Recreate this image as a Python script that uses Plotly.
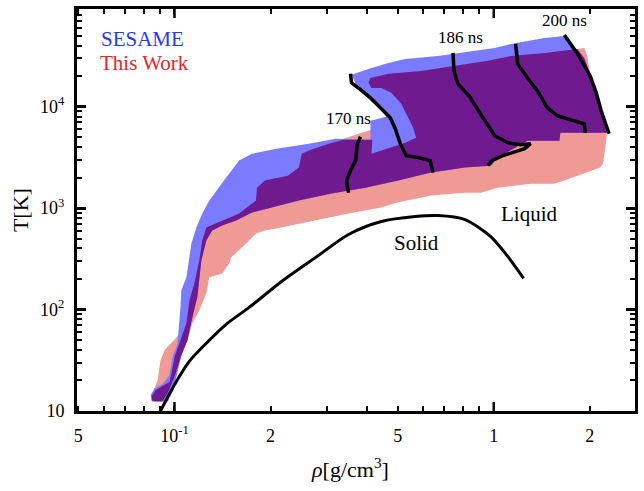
import math
import plotly.graph_objects as go

# ---------------- data ----------------
# This Work (full region)
work_rho = [0.0854, 0.0866, 0.0886, 0.0904, 0.0931, 0.0979, 0.1022, 0.1059, 0.1114, 0.1154,
            0.1196, 0.1222, 0.1258, 0.1410, 0.1594, 0.1800, 0.1813, 0.1920, 0.2265, 0.2451,
            0.2504, 0.2634, 0.3040, 0.3385, 0.3770, 0.4139, 0.4228, 0.4168, 0.4109, 0.4446,
            0.4776, 0.5280, 0.5715, 0.5594, 0.5396, 0.5131, 0.4776, 0.4446, 0.4139, 0.4050,
            0.4109, 0.4675, 0.5924, 0.7561, 0.9579, 1.130, 1.442, 1.827, 1.921, 1.963,
            2.005, 2.079, 2.154, 2.234, 2.265, 2.250, 2.218, 2.200, 2.154, 1.921,
            1.664, 1.549, 1.304, 1.029, 0.911, 0.8122, 0.6366, 0.5022, 0.4446, 0.3509,
            0.2770, 0.2154, 0.1920, 0.1800, 0.1676, 0.1560, 0.1506, 0.1483, 0.1410, 0.1285,
            0.1258, 0.1196, 0.1138, 0.1098, 0.1051, 0.1007, 0.0979, 0.0931, 0.0898]
work_T = [12.5, 16.8, 20.2, 31.7, 39.8, 46.6, 54.6, 67.0, 123, 182,
          305, 480, 644, 755, 885, 1190, 1590, 1870, 2090, 2510,
          3440, 3690, 4320, 4830, 5410, 5930, 5410, 4620, 3440, 3690,
          3950, 4420, 4940, 6210, 7780, 10700, 13700, 15300, 15300, 17200,
          19200, 21100, 22500, 25200, 28300, 31600, 33900, 37000, 37900, 31600,
          21100, 15300, 9750, 6950, 5800, 4620, 3290, 2750, 2510, 2190,
          1870, 1740, 1740, 1590, 1420, 1420, 1330, 1140, 1014, 885,
          755, 644, 602, 562, 449, 358, 327, 285, 227, 208,
          145, 98.4, 73.3, 49.9, 35.5, 25.3, 20.2, 14.4, 12.5]

# SESAME (full region)
sesame_rho = [0.0848, 0.0842, 0.0866, 0.0918, 0.0965, 0.0986, 0.1022, 0.1036, 0.1044, 0.1051,
              0.1090, 0.1130, 0.1171, 0.1222, 0.1285, 0.1452, 0.1594, 0.1750, 0.2108, 0.2634,
              0.3196, 0.4109, 0.4109, 0.4608, 0.4351, 0.3964, 0.3716, 0.3585, 0.4139, 0.4675,
              0.5280, 0.6690, 0.8477, 1.0072, 1.130, 1.442, 1.664, 1.853, 2.005, 2.079,
              2.154, 2.218, 2.265, 1.963, 1.617, 1.606, 1.276, 1.029, 0.9787, 0.8122,
              0.6366, 0.5022, 0.3964, 0.3106, 0.2451, 0.1962, 0.1750, 0.1560, 0.1410, 0.1313,
              0.1258, 0.1214, 0.1179, 0.1138, 0.1098, 0.1051, 0.1022, 0.0993, 0.0951]
sesame_T = [12.5, 14.4, 16.8, 18.4, 22.6, 34.0, 46.6, 73.3, 105, 155,
            208, 449, 644, 885, 1190, 2000, 2940, 3440, 3860, 4320,
            4830, 4730, 7270, 7955, 10200, 12800, 16100, 20600, 24100, 27000,
            29600, 31600, 35400, 37900, 41500, 47600, 49800, 32400, 21100, 15000,
            9750, 7270, 5540, 5540, 5540, 4620, 4620, 3150, 2620, 2510,
            2240, 1870, 1590, 1390, 1190, 991, 905, 755, 675, 602,
            480, 305, 132, 84.0, 49.9, 35.5, 24.2, 16.1, 12.3]

# Overlap of both regions
both_rho = [0.0854, 0.0848, 0.0873, 0.0931, 0.0965, 0.0979, 0.1000, 0.1036, 0.1090, 0.1114,
            0.1154, 0.1196, 0.1222, 0.1258, 0.1410, 0.1594, 0.1800, 0.1813, 0.1920, 0.2265,
            0.2451, 0.2504, 0.2634, 0.3040, 0.3385, 0.4168, 0.4139, 0.4446, 0.4776, 0.5280,
            0.5715, 0.5594, 0.5396, 0.5131, 0.4776, 0.4446, 0.4139, 0.4050, 0.4109, 0.4675,
            0.5924, 0.7561, 0.9579, 1.130, 1.442, 1.827, 1.921, 2.005, 2.079, 2.154,
            2.234, 2.265, 1.963, 1.617, 1.606, 1.276, 1.029, 0.9787, 0.8122, 0.6366,
            0.5022, 0.3964, 0.3106, 0.2451, 0.1962, 0.1750, 0.1560, 0.1410, 0.1313, 0.1258,
            0.1214, 0.1179, 0.1138, 0.1098, 0.1051, 0.1000, 0.0951, 0.0918]
both_T = [12.5, 14.0, 16.1, 18.0, 19.3, 23.6, 34.0, 46.6, 73.3, 123,
          182, 305, 480, 644, 755, 885, 1190, 1590, 1870, 2090,
          2510, 3440, 3690, 4320, 4730, 4730, 3440, 3690, 3950, 4420,
          4940, 6210, 7780, 10700, 13700, 15300, 15300, 17200, 19200, 21100,
          22500, 25200, 28300, 31600, 33900, 37000, 30200, 21100, 15300, 9750,
          6490, 5540, 5540, 5540, 4620, 4620, 3150, 2620, 2510, 2240,
          1870, 1590, 1390, 1190, 991, 905, 755, 675, 602, 480,
          305, 132, 84.0, 49.9, 35.5, 21.6, 15.0, 12.5]

# Melting curve (solid / liquid boundary)
melt_rho = [0.0904, 0.0986, 0.1114, 0.1258, 0.1452, 0.1713, 0.2170, 0.2770, 0.3509, 0.4446,
            0.5674, 0.6690, 0.8122, 0.9788, 1.106, 1.240]
melt_T = [10.0, 16.8, 31.0, 46.6, 71.6, 105, 190, 327, 550, 738,
          826, 845, 771, 525, 334, 203]

# Time contours
t170_rho = [0.3825, 0.3743, 0.3690, 0.3559, 0.3460, 0.3509]
t170_T = [5060, 4320, 2940, 2340, 1870, 1420]
t178_rho = [0.3559, 0.3585, 0.3825, 0.4109, 0.4446, 0.4742, 0.4916, 0.5094, 0.5318, 0.5798, 0.6320, 0.6457]
t178_T = [21100, 17200, 14700, 12200, 9530, 7780, 6070, 4320, 3290, 3150, 2940, 2240]
t186_rho = [0.7453, 0.7507, 0.7726, 0.8417, 0.9046, 0.9579, 1.0072, 1.106, 1.214, 1.304,
            1.249, 1.067, 0.9858, 0.9579]
t186_T = [33900, 22500, 16800, 12500, 8710, 6490, 5170, 4420, 4220, 4320,
          3860, 3290, 2940, 2620]
t193_rho = [1.171, 1.188, 1.276, 1.371, 1.473, 1.583, 1.738, 1.921, 1.935]
t193_T = [41500, 26400, 19200, 14300, 9750, 8140, 7430, 6790, 5540]
t200_rho = [1.664, 1.840, 2.005, 2.094, 2.170, 2.234, 2.298]
t200_T = [50900, 32400, 20100, 13700, 9120, 6950, 5410]

# Tick labels
x_tickvals = [0.05, 0.1, 0.2, 0.5, 1, 2]
x_ticktext = ["5", "10<sup>-1</sup>", "2", "5", "1", "2"]
x_minor = [0.06, 0.07, 0.08, 0.09, 0.3, 0.4, 0.6, 0.7, 0.8, 0.9]
y_tickvals = [10, 100, 1000, 10000]
y_ticktext = ["10", "10<sup>2</sup>", "10<sup>3</sup>", "10<sup>4</sup>"]
y_minor = [m * d for d in (10, 100, 1000, 10000) for m in range(2, 10)]

# Text labels
time_labels = ["170 ns", "186 ns", "200 ns"]
time_label_rho = [0.351, 0.784, 1.664]
time_label_T = [7600, 48600, 70000]
phase_labels = ["Solid", "Liquid"]
phase_label_rho = [0.5715, 1.285]
phase_label_T = [449, 885]

# ---------------- figure ----------------
SALMON = "#f09a95"
LBLUE = "#7b7bff"
PURPLE = "#6f1b8f"
FONT = "Liberation Serif"

fig = go.Figure()
for xs, ys, col in [(work_rho, work_T, SALMON), (sesame_rho, sesame_T, LBLUE), (both_rho, both_T, PURPLE)]:
    fig.add_trace(go.Scatter(x=xs, y=ys, mode="lines", fill="toself", fillcolor=col,
                             line=dict(width=0, color=col), hoverinfo="skip", showlegend=False))

fig.add_trace(go.Scatter(x=melt_rho, y=melt_T, mode="lines",
                         line=dict(color="black", width=3, shape="spline", smoothing=0.8),
                         showlegend=False))
for xs, ys in [(t170_rho, t170_T), (t178_rho, t178_T), (t186_rho, t186_T),
               (t193_rho, t193_T), (t200_rho, t200_T)]:
    fig.add_trace(go.Scatter(x=xs, y=ys, mode="lines",
                             line=dict(color="black", width=3.5), showlegend=False))

annotations = []
for txt, r, t in zip(time_labels, time_label_rho, time_label_T):
    annotations.append(dict(x=math.log10(r), y=math.log10(t), xref="x", yref="y", text=txt,
                            showarrow=False, font=dict(family=FONT, size=17, color="black")))
for txt, r, t in zip(phase_labels, phase_label_rho, phase_label_T):
    annotations.append(dict(x=math.log10(r), y=math.log10(t), xref="x", yref="y", text=txt,
                            showarrow=False, font=dict(family=FONT, size=21, color="black")))
annotations += [
    dict(x=0.040, y=0.926, xref="paper", yref="paper", text="SESAME", showarrow=False,
         xanchor="left", yanchor="middle", font=dict(family=FONT, size=21, color="#1f3bff")),
    dict(x=0.038, y=0.866, xref="paper", yref="paper", text="This Work", showarrow=False,
         xanchor="left", yanchor="middle", font=dict(family=FONT, size=21, color="#e8232a")),
    dict(x=-0.102, y=0.5, xref="paper", yref="paper", text="T[K]", textangle=-90, showarrow=False,
         xanchor="center", yanchor="middle", font=dict(family=FONT, size=22, color="black")),
    dict(x=0.49, y=-0.142, xref="paper", yref="paper", text="<i>ρ</i>[g/cm<sup>3</sup>]",
         showarrow=False, xanchor="center", yanchor="middle",
         font=dict(family=FONT, size=22, color="black")),
]

shapes = []
for v in (0.1, 1):
    shapes.append(dict(type="line", xref="x", yref="paper", ysizemode="pixel", yanchor=0,
                       x0=v, x1=v, y0=0, y1=9, line=dict(color="black", width=2.5)))
    shapes.append(dict(type="line", xref="x", yref="paper", ysizemode="pixel", yanchor=1,
                       x0=v, x1=v, y0=0, y1=-9, line=dict(color="black", width=2.5)))

fig.update_layout(
    width=644, height=491,
    margin=dict(l=77, r=6, t=8, b=80),
    paper_bgcolor="white", plot_bgcolor="white",
    font=dict(family=FONT, size=18, color="black"),
    annotations=annotations, shapes=shapes,
    xaxis=dict(type="log", range=[-1.3053, 0.4424], showgrid=False, zeroline=False,
               showline=True, linewidth=3, linecolor="black", mirror="allticks",
               ticks="inside", ticklen=5, tickwidth=2, tickcolor="black",
               tickvals=x_tickvals, ticktext=x_ticktext, ticklabelstandoff=6,
               tickfont=dict(family=FONT, size=18),
               minor=dict(tickmode="array", tickvals=x_minor, ticks="inside", ticklen=5,
                          tickwidth=2, tickcolor="black", showgrid=False)),
    yaxis=dict(type="log", range=[1, 4.963], showgrid=False, zeroline=False,
               showline=True, linewidth=3, linecolor="black", mirror="allticks",
               ticks="inside", ticklen=9, tickwidth=2.5, tickcolor="black",
               tickvals=y_tickvals, ticktext=y_ticktext, ticklabelstandoff=6,
               tickfont=dict(family=FONT, size=18),
               minor=dict(tickmode="array", tickvals=y_minor, ticks="inside", ticklen=5,
                          tickwidth=2, tickcolor="black", showgrid=False)),
)

fig.write_html("out.html")
